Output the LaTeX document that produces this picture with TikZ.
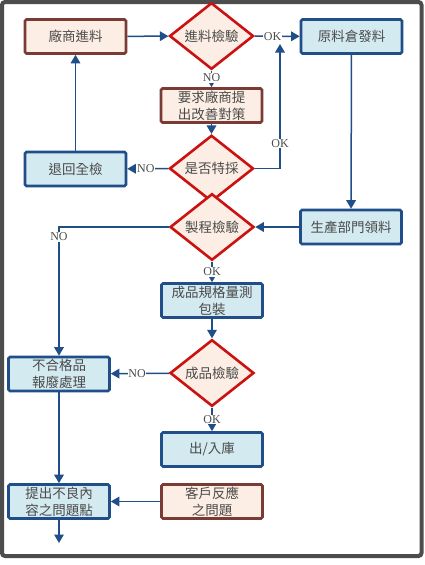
\documentclass[tikz,border=0pt]{standalone}
\usepackage{fontspec}
\newfontfamily\cjk{Noto Sans CJK TC}
\newfontfamily\lab{Liberation Serif}
\usetikzlibrary{shapes.geometric,arrows.meta}
\definecolor{bluebd}{HTML}{1F4E89}
\definecolor{bluefl}{HTML}{D4EAF1}
\definecolor{brownbd}{HTML}{7A3B35}
\definecolor{peach}{HTML}{FCEEE4}
\definecolor{redbd}{HTML}{CC1111}
\definecolor{txt}{HTML}{4A4A4A}
\definecolor{frame}{HTML}{4D4D4D}
\tikzset{
  base/.style={text=txt, font=\cjk\fontsize{13.5}{17}\selectfont, align=center, inner sep=0pt},
  bluebox/.style={base, draw=bluebd, fill=bluefl, line width=2.6pt, rounded corners=1.5pt, minimum width=101pt, minimum height=34pt},
  brownbox/.style={base, draw=brownbd, fill=peach, line width=2.6pt, rounded corners=1.5pt, minimum width=101pt, minimum height=34pt},
  decis/.style={base, diamond, draw=redbd, fill=peach, line width=2.6pt, minimum width=84pt, minimum height=49pt},
  conn/.style={draw=bluebd, line width=1.5pt, -{Triangle[length=8.5pt,width=9.5pt]}},
  lbl/.style={font=\lab\fontsize{12}{13}\selectfont, text=txt, fill=white, inner sep=0.8pt}
}
\begin{document}
\begin{tikzpicture}[x=1pt,y=-1pt]
\useasboundingbox (0,0) rectangle (425,565);
\fill[white] (0,0) rectangle (425,565);
\draw[frame, line width=4pt, rounded corners=3pt] (2,2) rectangle (421.5,556);

\node[brownbox] (vendor) at (75.5,36.5) {廠商進料};
\node[decis] (incheck) at (211.5,36) {進料檢驗};
\node[bluebox] (store) at (351.5,36.5) {原料倉發料};
\node[brownbox] (improve) at (211.5,105.5) {要求廠商提\\出改善對策};
\node[decis] (special) at (211.5,168.5) {是否特採};
\node[bluebox] (ret) at (75.5,169) {退回全檢};
\node[decis] (proc) at (212,227) {製程檢驗};
\node[bluebox] (prod) at (351,227) {生產部門領料};
\node[bluebox] (measure) at (212,300.5) {成品規格量測\\包裝};
\node[decis] (final) at (212,373) {成品檢驗};
\node[bluebox] (scrap) at (59,374) {不合格品\\報廢處理};
\node[bluebox] (out) at (212,449.5) {出/入庫};
\node[bluebox] (issue) at (59,501.5) {提出不良內\\容之問題點};
\node[brownbox] (cust) at (212,501.5) {客戶反應\\之問題};
\coordinate (okin) at (280,44);
\coordinate (nocorner) at (59,227);
\coordinate (endpt) at (59,543);

\draw[conn] (vendor) -- (incheck);
\draw[conn] (incheck) -- node[lbl, pos=0.4] {OK} (store);
\draw[conn] (incheck) -- node[lbl, pos=0.45] {NO} (improve);
\draw[conn] (improve) -- (special);
\draw[conn] (special) -- node[lbl, pos=0.55] {NO} (ret);
\draw[conn] (special.east) -| node[lbl, pos=0.6] {OK} (okin);
\draw[conn] (ret) -- (vendor);
\draw[conn] (store) -- (prod);
\draw[conn] (prod) -- (proc);
\draw[conn] (proc.west) -- (nocorner) node[lbl, pos=1, yshift=-10pt] {NO} -- (scrap);
\draw[conn] (proc) -- node[lbl, pos=0.5] {OK} (measure);
\draw[conn] (measure) -- (final);
\draw[conn] (final) -- node[lbl, pos=0.55] {NO} (scrap);
\draw[conn] (final) -- node[lbl, pos=0.5] {OK} (out);
\draw[conn] (scrap) -- (issue);
\draw[conn] (cust) -- (issue);
\draw[conn] (issue) -- (endpt);
\end{tikzpicture}
\end{document}
